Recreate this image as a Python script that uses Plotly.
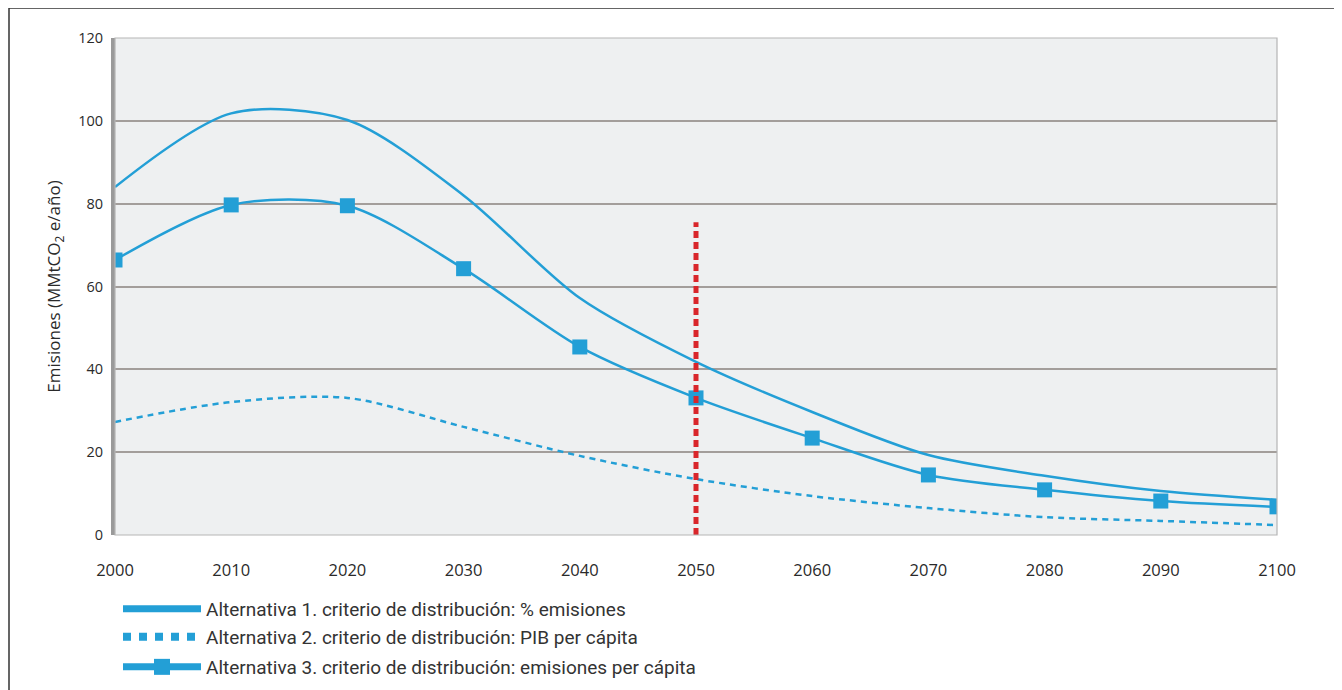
import plotly.graph_objects as go

years = [2000, 2010, 2020, 2030, 2040, 2050, 2060, 2070, 2080, 2090, 2100]
alt1 = [84, 101.8, 100.2, 82, 57.2, 41.8, 29.7, 19.3, 14.3, 10.6, 8.5]
alt2 = [27.3, 32.1, 33.1, 26.1, 19.1, 13.5, 9.4, 6.5, 4.3, 3.4, 2.4]
alt3 = [66.4, 79.7, 79.5, 64.3, 45.4, 33.1, 23.4, 14.5, 10.9, 8.2, 6.8]
ref_year = [2050, 2050]
ref_vals = [0, 75.5]

names = [
    "Alternativa 1. criterio de distribución: % emisiones",
    "Alternativa 2. criterio de distribución: PIB per cápita",
    "Alternativa 3. criterio de distribución: emisiones per cápita",
]
blue = "#239fd6"
red = "#d9262b"

# page offset (browser body margin) compensation
OFF = 8
W, H = 1342 - OFF, 710
L, T = 115 - OFF, 38 - OFF
R = W - (1277 - OFF)
B = H - (535 - OFF)
pw = W - L - R
ph = H - T - B


def px_x(p):
    return (p - OFF - L) / pw


def px_y(p):
    return (H - B - (p - OFF)) / ph


fig = go.Figure()
fig.add_trace(go.Scatter(x=years, y=alt1, name=names[0], mode="lines", showlegend=False,
                         line=dict(color=blue, width=2.5, shape="spline", smoothing=0.85)))
fig.add_trace(go.Scatter(x=years, y=alt2, name=names[1], mode="lines", showlegend=False,
                         line=dict(color=blue, width=2.5, shape="spline", smoothing=0.85, dash="6px,5px")))
fig.add_trace(go.Scatter(x=years, y=alt3, name=names[2], mode="lines+markers", showlegend=False,
                         line=dict(color=blue, width=2.5, shape="spline", smoothing=0.85),
                         marker=dict(symbol="square", size=15, color=blue)))
fig.add_trace(go.Scatter(x=ref_year, y=ref_vals, mode="lines", showlegend=False,
                         line=dict(color=red, width=5, dash="7px,4px")))

# legend keys
fig.add_trace(go.Scatter(x=[None], y=[None], name=names[0], mode="lines", legend="legend",
                         line=dict(color=blue, width=7)))
fig.add_trace(go.Scatter(x=[None], y=[None], name=names[1], mode="lines", legend="legend2",
                         line=dict(color=blue, width=8, dash="8px,8px")))
fig.add_trace(go.Scatter(x=[None], y=[None], name=names[2], mode="lines+markers", legend="legend3",
                         line=dict(color=blue, width=7),
                         marker=dict(symbol="square", size=16, color=blue)))

fig.add_shape(type="rect", xref="paper", yref="paper",
              x0=px_x(9), x1=px_x(1338), y0=px_y(740), y1=px_y(8),
              line=dict(color="#333333", width=1.5), fillcolor="rgba(0,0,0,0)", layer="below")
fig.add_shape(type="rect", xref="paper", yref="paper", x0=0, x1=1, y0=0, y1=1,
              line=dict(color="#b5b5b5", width=1.2), fillcolor="rgba(0,0,0,0)", layer="above")

leg_common = dict(xanchor="left", yanchor="middle", orientation="v", itemwidth=78,
                  font=dict(family="Roboto", size=19, color="#333333"),
                  bgcolor="rgba(0,0,0,0)", borderwidth=0)

fig.update_layout(
    width=W, height=H,
    margin=dict(l=L, r=R, t=T, b=B),
    paper_bgcolor="white",
    plot_bgcolor="#eef0f1",
    font=dict(family="Open Sans", color="#2a2a2a"),
    showlegend=True,
    legend=dict(x=px_x(118), y=px_y(609), **leg_common),
    legend2=dict(x=px_x(118), y=px_y(637), **leg_common),
    legend3=dict(x=px_x(118), y=px_y(667), **leg_common),
)
fig.update_xaxes(
    range=[2000, 2100], tickvals=years, ticktext=[str(y) for y in years],
    showgrid=False, zeroline=False, showline=False,
    ticks="outside", ticklen=20, tickcolor="rgba(0,0,0,0)",
    tickfont=dict(family="Open Sans", size=16.5, color="#2a2a2a"),
)
fig.update_yaxes(
    range=[0, 120], tickvals=[0, 20, 40, 60, 80, 100, 120],
    showgrid=True, gridcolor="#a39e9b", gridwidth=1.5, zeroline=False,
    showline=True, linecolor="#9a9a9a", linewidth=4,
    ticks="outside", ticklen=5, tickcolor="rgba(0,0,0,0)",
    tickfont=dict(family="Open Sans", size=14.5, color="#2a2a2a"),
    title=dict(text="Emisiones (MMtCO<sub>2</sub> e/año)", standoff=14,
               font=dict(family="Open Sans", size=17, color="#2a2a2a")),
)

fig.write_html("out.html")
